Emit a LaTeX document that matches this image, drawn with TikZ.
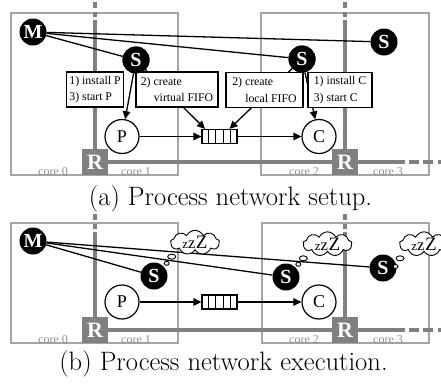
\documentclass[tikz,border=0pt]{standalone}
\usepackage{fontspec}
\newfontfamily\tms{Liberation Serif}
\usetikzlibrary{shapes.symbols,arrows.meta,calc}
\definecolor{tilegray}{RGB}{165,165,165}
\definecolor{netgray}{RGB}{128,128,128}
\definecolor{labgray}{RGB}{140,140,140}
\begin{document}
\begin{tikzpicture}[x=1pt,y=-1pt,
  tile/.style={draw=tilegray,line width=1.3pt},
  net/.style={draw=netgray,line width=3.5pt},
  netdash/.style={net,dash pattern=on 6.5pt off 3.5pt on 5pt off 3.5pt},
  netdashh/.style={net,dash pattern=on 10pt off 4.5pt},
  router/.style={fill=netgray,minimum size=26pt,inner sep=0pt,text=white,font=\tms\bfseries\fontsize{22}{22}\selectfont},
  blk/.style={circle,fill=black,minimum size=27pt,inner sep=0pt,text=white,font=\tms\bfseries\fontsize{20}{20}\selectfont},
  proc/.style={circle,draw=black,line width=1.2pt,fill=white,minimum size=34pt,inner sep=0pt,font=\tms\fontsize{18}{18}\selectfont},
  lab/.style={draw=black,line width=1.2pt,fill=white,align=left,inner xsep=3pt,inner ysep=0pt,minimum height=35pt,font=\tms\fontsize{11.8}{16.5}\selectfont},
  corelab/.style={anchor=base,text=labgray,font=\tms\fontsize{12}{12}\selectfont,inner sep=0pt},
  fifo/.style={draw=black,line width=1.2pt,fill=white,minimum width=35pt,minimum height=14pt,inner sep=0pt},
  conn/.style={draw=black,line width=1.3pt},
  arr/.style={conn,-{Triangle[length=8pt,width=7.5pt]}},
  sleep/.style={cloud,cloud ignores aspect,draw=black,line width=0.9pt,fill=white,cloud puffs=9,cloud puff arc=130,inner sep=0pt,minimum width=49pt,minimum height=24pt,font=\tms},
  bubble/.style={draw=black,line width=0.9pt,fill=white},
  captext/.style={anchor=base,font=\fontsize{26.6}{32}\selectfont,inner sep=0pt}
]
\useasboundingbox (0,0) rectangle (441,383);
\newcommand{\zzz}{{\fontsize{13}{13}\selectfont z}{\fontsize{16.5}{16.5}\selectfont z}\kern0.5pt{\fontsize{19}{19}\selectfont Z}}

% ================= panel (a) =================
\draw[tile] (11,13) rectangle (178,175);
\draw[tile] (261,13) rectangle (429,175);
\node[router] (R1a) at (95,162) {R};
\node[router] (R2a) at (345,162) {R};
\coordinate (T1a) at (95,1.5);
\coordinate (U1a) at (95,20);
\coordinate (T2a) at (345,1.5);
\coordinate (U2a) at (345,20);
\coordinate (H1a) at (405,162);
\coordinate (H2a) at (408.5,162);
\coordinate (H3a) at (441,162);
\draw[netdash] (T1a) -- (U1a);
\draw[net] (U1a) -- (R1a.north);
\draw[netdash] (T2a) -- (U2a);
\draw[net] (U2a) -- (R2a.north);
\draw[net] (R1a.east) -- (R2a.west);
\draw[net] (R2a.east) -- (H1a);
\draw[netdashh] (H2a) -- (H3a);
\node[corelab] (c0a) at (53,175.5) {core 0};
\node[corelab] (c1a) at (136,175.5) {core 1};
\node[corelab] (c2a) at (304,175.5) {core 2};
\node[corelab] (c3a) at (388,175.5) {core 3};

\node[blk] (Ma) at (33,32) {M};
\node[blk] (S1a) at (136,60) {S};
\node[blk] (S2a) at (302,59) {S};
\node[blk] (S3a) at (384,42) {S};
\node[proc] (Pa) at (122,136.5) {P};
\node[proc] (Ca) at (319,136.5) {C};
\node[fifo] (Fa) at (219.5,136.5) {};
\foreach \i in {1,...,4}
  \draw[line width=1.2pt] ($(Fa.north west)!\i/5!(Fa.north east)$) -- ($(Fa.south west)!\i/5!(Fa.south east)$);

\draw[conn] (Ma) -- (S1a);
\draw[conn] (Ma) -- (S2a);
\draw[conn] (Ma) -- (S3a);
\draw[arr] (S1a) -- (Pa);
\draw[arr] (S1a) -- ([xshift=-14.5pt]Fa.north);
\draw[arr] (S2a) -- ([xshift=10pt]Fa.north);
\draw[arr] (S2a) -- (Ca);
\draw[arr] (Pa.east) -- (Fa.west);
\draw[arr] (Fa.east) -- (Ca.west);

\node[lab,minimum width=56pt] (B1) at (95,89.5) {1) install P\\3) start P};
\node[lab,minimum width=82pt] (B2) at (177,89.5) {2) create\\\hspace*{13pt}virtual FIFO};
\node[lab,minimum width=77pt] (B3) at (264.5,90) {2) create\\\hspace*{13pt}local FIFO};
\node[lab,minimum width=64pt] (B4) at (340,90) {1) install C\\3) start C};

\node[blk] at (S1a) {S};
\node[blk] at (S2a) {S};

\node[captext] (capA) at (230.5,205) {(a) Process network setup.};

% ================= panel (b) =================
\draw[tile] (11,223) rectangle (178,343);
\draw[tile] (262,223) rectangle (429,343);
\node[router] (R1b) at (95,330) {R};
\node[router] (R2b) at (345,330) {R};
\coordinate (T1b) at (95,213.5);
\coordinate (U1b) at (95,235);
\coordinate (T2b) at (345,213.5);
\coordinate (U2b) at (345,235);
\coordinate (H1b) at (405,330);
\coordinate (H2b) at (408.5,330);
\coordinate (H3b) at (441,330);
\draw[netdash] (T1b) -- (U1b);
\draw[net] (U1b) -- (R1b.north);
\draw[netdash] (T2b) -- (U2b);
\draw[net] (U2b) -- (R2b.north);
\draw[net] (R1b.east) -- (R2b.west);
\draw[net] (R2b.east) -- (H1b);
\draw[netdashh] (H2b) -- (H3b);
\node[corelab] (c0b) at (53,343.5) {core 0};
\node[corelab] (c1b) at (136,343.5) {core 1};
\node[corelab] (c2b) at (304,343.5) {core 2};
\node[corelab] (c3b) at (388,343.5) {core 3};

\node[blk] (Mb) at (33,241) {M};
\node[blk] (S1b) at (154,276) {S};
\node[blk] (S2b) at (286,277) {S};
\node[blk] (S3b) at (383,268) {S};
\node[proc] (Pb) at (122,302) {P};
\node[proc] (Cb) at (319,302) {C};
\node[fifo] (Fb) at (219.5,302) {};
\foreach \i in {1,...,4}
  \draw[line width=1.2pt] ($(Fb.north west)!\i/5!(Fb.north east)$) -- ($(Fb.south west)!\i/5!(Fb.south east)$);

\draw[conn] (Mb) -- (S1b);
\draw[conn] (Mb) -- (S2b);
\draw[conn] (Mb) -- (S3b);
\draw[arr] (Pb.east) -- (Fb.west);
\draw[arr] (Fb.east) -- (Cb.west);

\node[sleep] (Z1) at (195,242.5) {\zzz};
\node[sleep] (Z2) at (327.5,244) {\zzz};
\node[sleep] (Z3) at (424,244) {\zzz};
\draw[bubble] (171.7,256.7) ellipse [x radius=4,y radius=2.5];
\draw[bubble] (166.7,263.3) ellipse [x radius=2.5,y radius=2];
\draw[bubble] (303.3,258.3) ellipse [x radius=4,y radius=2.5];
\draw[bubble] (298.3,264.3) ellipse [x radius=2.5,y radius=2];
\draw[bubble] (400,258.3) ellipse [x radius=4,y radius=2.5];
\draw[bubble] (395.5,266.5) ellipse [x radius=2.5,y radius=2];

\node[captext] (capB) at (223.5,370) {(b) Process network execution.};
\end{tikzpicture}
\end{document}
